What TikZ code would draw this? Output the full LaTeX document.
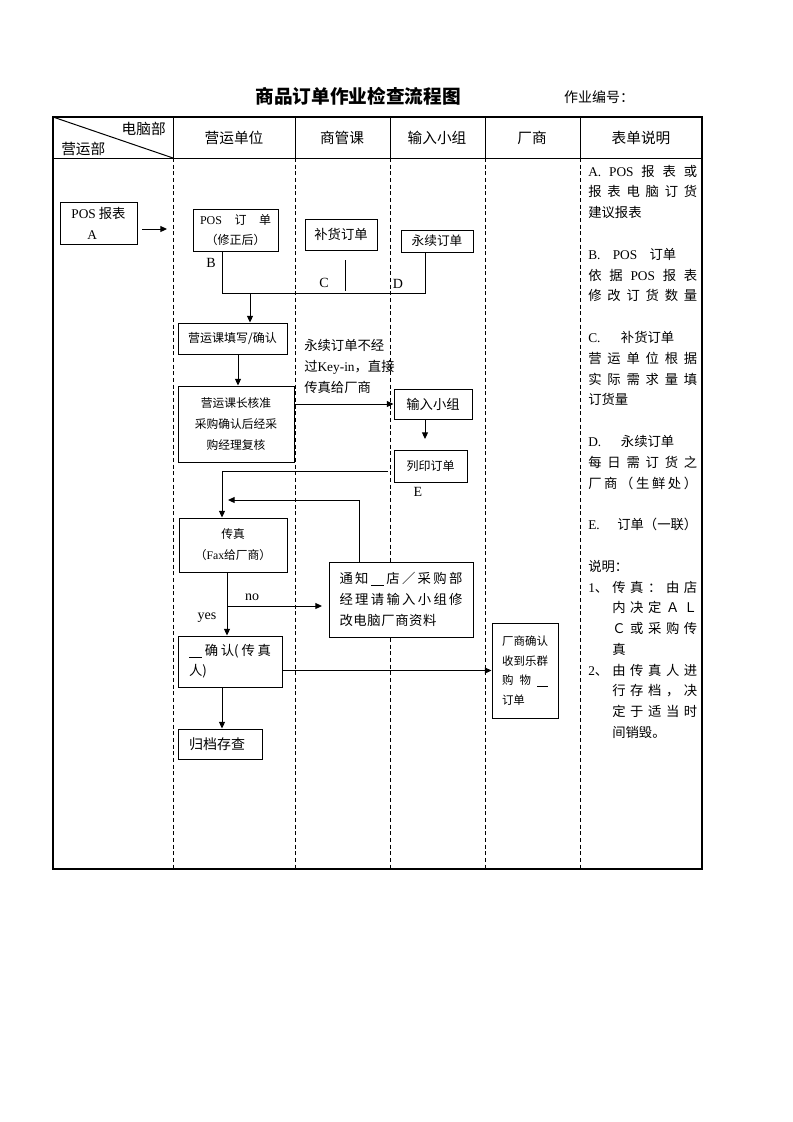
\documentclass[tikz,border=0pt]{standalone}
\usepackage{fontspec}
\setmainfont{Liberation Serif}
\newfontfamily\cjk{Noto Sans CJK SC}
\usetikzlibrary{arrows.meta}
\newdimen\pxu \pxu=0.75pt
\newcommand\en[1]{{\rmfamily #1}}
\newcommand\sprd[2]{\makebox[#1][s]{\sprdaux#2\relax}}
\def\sprdaux#1{\ifx\relax#1\else#1\expandafter\sprdnext\fi}
\def\sprdnext#1{\ifx\relax#1\else\hfil#1\expandafter\sprdnext\fi}
\newcommand\blank[1]{\rule[-1.5pt]{#1\pxu}{0.5pt}}
\begin{document}
\begin{tikzpicture}[x=0.75pt,y=-0.75pt,
  ln/.style={line width=0.75pt},
  frame/.style={line width=1pt},
  col/.style={line width=0.75pt, dash pattern=on 3pt off 2pt},
  arr/.style={line width=0.75pt,-{Triangle[length=5pt,width=4.5pt]}},
  box/.style={draw, fill=white, line width=0.75pt, inner sep=0pt, align=center, font=\cjk\fontsize{9}{15.5}\selectfont},
  sz/.style 2 args={minimum width={#1*0.75pt}, minimum height={#2*0.75pt}},
  hd/.style={inner sep=0pt, font=\cjk\fontsize{11}{13}\selectfont},
  txt/.style={inner sep=0pt, font=\cjk\fontsize{10}{15.75}\selectfont},
  lat/.style={inner sep=0pt, font=\rmfamily\fontsize{10.5}{12}\selectfont},
  rc/.style={inner sep=0pt, anchor=west, font=\cjk\fontsize{10}{12}\selectfont},
]
\useasboundingbox (0,0) rectangle (793,1122);
% title
\node[font=\cjk\bfseries\fontsize{14}{16}\selectfont, inner sep=0pt] (title) at (358,96) {商品订单作业检查流程图};
\node[font=\cjk\fontsize{10.5}{12}\selectfont, inner sep=0pt] (code) at (599,97) {作业编号：};
% table
\draw[frame] (53,117) rectangle (702,869);
\draw[ln] (53,158) -- (702,158);
\draw[ln] (53,117) -- (173,158);
\foreach \x in {173,295,390,485,580} {
  \draw[ln] (\x,117) -- (\x,158);
  \draw[col] (\x,158) -- (\x,869);
}
% headers
\node[hd, anchor=east] (h0a) at (166,129) {电脑部};
\node[hd, anchor=west] (h0b) at (61,149) {营运部};
\node[hd] (h1) at (234,138) {营运单位};
\node[hd] (h2) at (342,138) {商管课};
\node[hd] (h3) at (437,138) {输入小组};
\node[hd] (h4) at (532,138) {厂商};
\node[hd] (h5) at (641,138) {表单说明};

% boxes
\node[box, sz={77}{42}, align=left, font=\cjk\fontsize{10}{15.75}\selectfont] (A) at (98.5,223) {\en{POS} 报表\\\hspace*{16\pxu}\en{A}};
\coordinate (a1) at (142,229);
\coordinate (a2) at (167,229);
\draw[arr] (a1) -- (a2);

\node[box, sz={85}{42}] (B) at (235.5,230) {\sprd{71\pxu}{{\en{POS}}订单}\\（修正后）};
\node[lat] (lB) at (211,263) {B};
\node[box, sz={72}{31}, font=\cjk\fontsize{10}{12}\selectfont] (C) at (341,234.5) {补货订单};
\node[box, sz={72}{22}, font=\cjk\fontsize{9.5}{12}\selectfont] (D) at (437,241) {永续订单};
\node[lat] (lC) at (324,283) {C};
\node[lat] (lD) at (398,284) {D};

\coordinate (j1) at (222,293);
\coordinate (j2) at (425,293);
\coordinate (j3) at (250,293);
\coordinate (c1) at (345,260);
\coordinate (c2) at (345,291);
\draw[ln] (B.south -| j1) -- (j1) -- (j2) -- (D.south -| j2);
\draw[ln] (c1) -- (c2);

\node[box, sz={109}{31}] (E1) at (232.5,338.5) {营运课填写/确认};
\draw[arr] (j3) -- (E1.north -| j3);

\node[box, sz={116}{76}, font=\cjk\fontsize{8.8}{16}\selectfont] (E2) at (236,424) {营运课长核准\\采购确认后经采\\购经理复核};
\draw[arr] ([xshift=5.5\pxu]E1.south) -- ([xshift=5.5\pxu]E1.south |- E2.north);

\node[txt, anchor=west, align=left] (note) at (304,366) {永续订单不经\\过\en{Key-in}，直接\\传真给厂商};

\node[box, sz={78}{30}, font=\cjk\fontsize{10}{12}\selectfont] (F) at (433,404) {输入小组};
\draw[arr] (E2.east |- F.west) -- (F.west);

\coordinate (g1) at (425,439);
\draw[arr] (F.south -| g1) -- (g1);
\node[box, sz={73}{32}] (G) at (430.5,466) {列印订单};
\node[lat] (lE) at (418,492) {E};

\coordinate (h0) at (388,471);
\coordinate (h1) at (222,471);
\node[box, sz={108}{54}, font=\cjk\fontsize{8.8}{15.75}\selectfont] (H) at (233,545) {传真\\（\en{Fax}给厂商）};
\draw[ln] (h0) -- (h1);
\draw[arr] (h1) -- (H.north -| h1);

\node[box, sz={144}{75}, align=left, font=\cjk\fontsize{10}{15.75}\selectfont] (I) at (401,599.5) {\sprd{123\pxu}{通知{\blank{13}}店／采购部}\\\sprd{123\pxu}{经理请输入小组修}\\\sprd{97\pxu}{改电脑厂商资料}};
\coordinate (r1) at (359,500);
\coordinate (r2) at (228,500);
\draw[ln] (I.north -| r1) -- (r1);
\draw[arr] (r1) -- (r2);

\coordinate (k) at (227,606);
\coordinate (k2) at (322,606);
\node[box, sz={104}{51}, align=left, font=\cjk\fontsize{10}{15}\selectfont] (J) at (230,661.5) {\sprd{82\pxu}{{\blank{13}}确{认(}传真}\\人)};
\draw[arr] (H.south -| k) -- (J.north -| k);
\draw[arr] (k) -- (k2);
\node[lat] (lno) at (252,597) {no};
\node[lat] (lyes) at (207,618) {yes};

\node[box, sz={66}{95}, align=left, font=\cjk\fontsize{8.6}{14.6}\selectfont] (K) at (525,670.5) {\sprd{46\pxu}{厂商确认}\\\sprd{46\pxu}{收到乐群}\\\sprd{46\pxu}{购物{\blank{11}}}\\订单};
\draw[arr] (J.east |- K.west) -- (K.west);

\node[box, sz={84}{30}, font=\cjk\fontsize{10.5}{12}\selectfont] (L) at (220,744) {\hspace*{-6\pxu}归档存查};
\draw[arr] (J.south -| h1) -- (L.north -| h1);

% right column
\node[rc] (r00) at (588,{171+20.8*0}) {\sprd{109\pxu}{{\en{A.}}{\en{POS}}报表或}};
\node[rc] (r01) at (588,{171+20.8*1}) {\sprd{109\pxu}{报表电脑订货}};
\node[rc] (r02) at (588,{171+20.8*2}) {建议报表};
\node[rc] (r04) at (588,{171+20.8*4}) {\makebox[88\pxu][s]{\en{B.}\hfil\en{POS}\hfil 订单}};
\node[rc] (r05) at (588,{171+20.8*5}) {\sprd{109\pxu}{依据{\en{POS}}报表}};
\node[rc] (r06) at (588,{171+20.8*6}) {\sprd{109\pxu}{修改订货数量}};
\node[rc] (r08) at (588,{171+20.8*8}) {\makebox[86\pxu][s]{\en{C.}\hfil 补货订单}};
\node[rc] (r09) at (588,{171+20.8*9}) {\sprd{109\pxu}{营运单位根据}};
\node[rc] (r10) at (588,{171+20.8*10}) {\sprd{109\pxu}{实际需求量填}};
\node[rc] (r11) at (588,{171+20.8*11}) {订货量};
\node[rc] (r13) at (588,{171+20.8*13}) {\makebox[86\pxu][s]{\en{D.}\hfil 永续订单}};
\node[rc] (r14) at (588,{171+20.8*14}) {\sprd{109\pxu}{每日需订货之}};
\node[rc] (r15) at (588,{171+20.8*15}) {\sprd{109\pxu}{厂商（生鲜处）}};
\node[rc] (r17) at (588,{171+20.8*17}) {\makebox[109\pxu][s]{\en{E.}\hfil 订单（一联）}};
\node[rc] (r19) at (588,{171+20.8*19}) {说明：};
\node[rc] (r20) at (588,{171+20.8*20}) {\makebox[24\pxu][l]{\en{1}、}\sprd{85\pxu}{传真：由店}};
\node[rc] (r21) at (612,{171+20.8*21}) {\sprd{85\pxu}{内决定ＡＬ}};
\node[rc] (r22) at (612,{171+20.8*22}) {\sprd{85\pxu}{Ｃ或采购传}};
\node[rc] (r23) at (612,{171+20.8*23}) {真};
\node[rc] (r24) at (588,{171+20.8*24}) {\makebox[24\pxu][l]{\en{2}、}\sprd{85\pxu}{由传真人进}};
\node[rc] (r25) at (612,{171+20.8*25}) {\sprd{85\pxu}{行存档，决}};
\node[rc] (r26) at (612,{171+20.8*26}) {\sprd{85\pxu}{定于适当时}};
\node[rc] (r27) at (612,{171+20.8*27}) {间销毁。};
\end{tikzpicture}
\end{document}
